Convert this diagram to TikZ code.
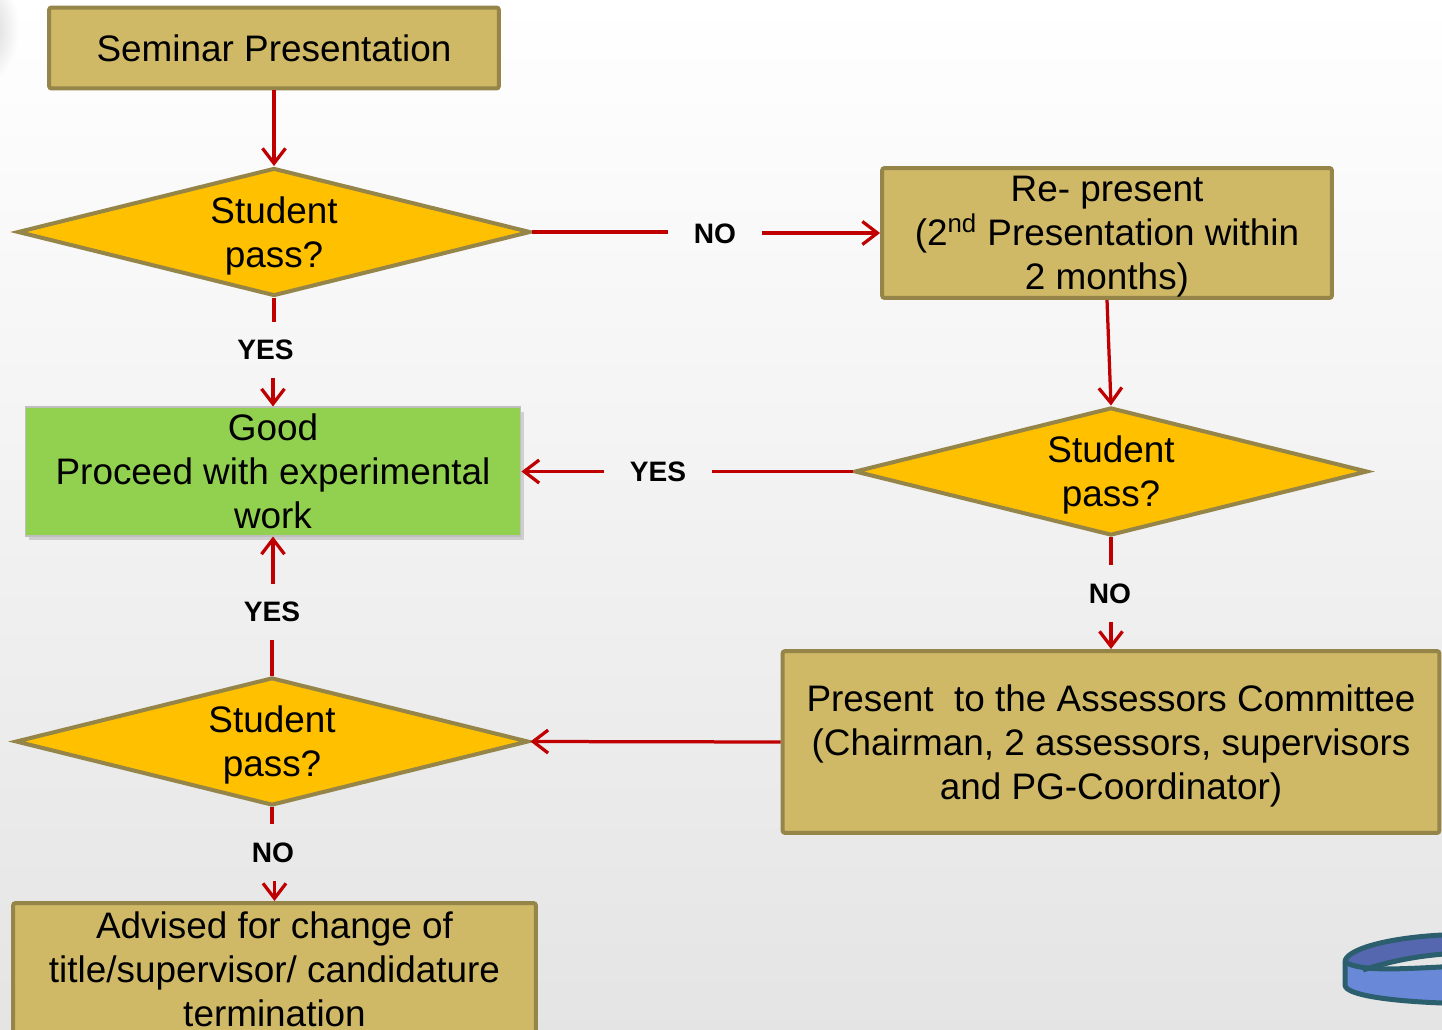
\documentclass[tikz,border=0pt]{standalone}
\usepackage{fontspec}
\setmainfont{Liberation Sans}
\usepackage{xcolor}
\usepackage{tikz}
\usetikzlibrary{shapes.geometric,arrows.meta,shadows}

\definecolor{khaki}{HTML}{CFB967}
\definecolor{khakiedge}{HTML}{958549}
\definecolor{amber}{HTML}{FFC000}
\definecolor{leaf}{HTML}{92D050}
\definecolor{linkred}{HTML}{C00000}
\definecolor{ringedge}{HTML}{2B5F6E}
\definecolor{ringdark}{HTML}{5467AF}
\definecolor{ringlight}{HTML}{6A88D8}

\tikzset{
    stage/.style={draw=khakiedge, fill=khaki, line width=0.08cm, rounded corners=1.5pt,
        inner sep=0pt, align=center, text depth=0pt, font=\fontsize{21}{25}\selectfont},
    check/.style={diamond, draw=khakiedge, fill=amber, line width=0.08cm, inner sep=0pt,
        aspect=4, minimum width=10.26cm, minimum height=2.56cm, align=center, text depth=0pt,
        font=\fontsize{21}{25}\selectfont},
    answer/.style={font=\fontsize{16}{19}\selectfont\bfseries, inner xsep=0.52cm, inner ysep=0.36cm},
    wire/.style={draw=linkred, line width=0.065cm},
    link/.style={wire, -{Straight Barb[length=0.3cm, width=0.46cm, line width=0.065cm]}},
}

\begin{document}
\begin{tikzpicture}[x=0.02cm, y=-0.02cm]
    \useasboundingbox (0,0) rectangle (1442,1030);
    \clip (0,0) rectangle (1442,1030);

    % slide background
    \shade[top color=white, middle color=gray!5, bottom color=gray!21] (0,0) rectangle (1442,1030);
    \shade[inner color=gray!38, outer color=white] (-18,30) ellipse [x radius=0.75cm, y radius=1.15cm];

    % boxes
    \node[stage, minimum width=9cm, minimum height=1.62cm] (sem) at (274,48) {Seminar Presentation};
    \node[stage, minimum width=9cm, minimum height=2.6cm] (rep) at (1107,233)
        {Re- present\\(2\textsuperscript{nd} Presentation within\\2 months)};
    \node[draw=black!25, fill=leaf, line width=0.6pt, inner sep=0pt, align=center,
        font=\fontsize{21}{25}\selectfont, minimum width=9.92cm, minimum height=2.58cm,
        drop shadow={shadow xshift=0.07cm, shadow yshift=-0.09cm, opacity=0.3}] (good) at (273,471.5)
        {Good\\Proceed with experimental\\work};
    \node[stage, minimum width=13.14cm, minimum height=3.64cm] (pres) at (1111,742)
        {Present\ \ to the Assessors Committee\\(Chairman, 2 assessors, supervisors\\and PG-Coordinator)};
    \node[stage, minimum width=10.46cm, minimum height=2.64cm] (adv) at (274.5,969)
        {Advised for change of\\title/supervisor/ candidature\\termination};

    % decisions
    \node[check] (dia1) at (274,232) {Student\\pass?};
    \node[check] (dia2) at (1111,471.5) {Student\\pass?};
    \node[check] (dia3) at (272,741.5) {Student\\pass?};

    % answers on the links
    \node[answer] (no1) at (715,234) {NO};
    \node[answer] (yes1) at (265.5,350) {YES};
    \node[answer] (yes2) at (658,472) {YES};
    \node[answer] (no2) at (1110,593.5) {NO};
    \node[answer] (yes3) at (272,612) {YES};
    \node[answer] (no3) at (273,852.5) {NO};

    % links
    \draw[link] (sem) -- (dia1);
    \draw[wire] (dia1.east) -- (no1.west |- dia1.east);
    \draw[link] (no1.east |- rep.west) -- (rep.west);
    \draw[wire] (dia1.south) -- (dia1.south |- yes1.north);
    \draw[link] (good.north |- yes1.south) -- (good.north);
    \draw[link] (rep.south) -- (dia2.north);
    \draw[wire] (dia2.west) -- (yes2.east |- dia2.west);
    \draw[link] (yes2.west |- good.east) -- (good.east);
    \draw[wire] (dia2.south) -- (dia2.south |- no2.north);
    \draw[link] (pres.north |- no2.south) -- (pres.north);
    \draw[link] (pres.west) -- (dia3.east);
    \draw[wire] (dia3.north) -- (dia3.north |- yes3.south);
    \draw[link] (good.south |- yes3.north) -- (good.south);
    \draw[wire] (dia3.south) -- (dia3.south |- no3.north);
    \draw[link] (adv.north |- no3.south) -- (adv.north);

    % ring in the corner
    \fill[ringdark] (1460,934) -- (1442,935) .. controls (1385,938) and (1345,950) .. (1345,962)
        .. controls (1350,968) and (1356,970) .. (1363,970)
        .. controls (1385,963) and (1415,955) .. (1460,953) -- cycle;
    \fill[ringlight] (1345,962) .. controls (1362,972) and (1400,969) .. (1460,966)
        -- (1460,1004) -- (1442,1003) .. controls (1390,1001) and (1345,995) .. (1345,985) -- cycle;
    \draw[ringedge, line width=0.1cm, line join=round]
        (1460,934) -- (1442,935) .. controls (1385,938) and (1345,950) .. (1345,962)
        -- (1345,985) .. controls (1345,995) and (1390,1001) .. (1442,1003) -- (1460,1004);
    \draw[ringedge, line width=0.1cm] (1345,962) .. controls (1362,972) and (1400,969) .. (1460,966);
    \draw[ringedge, line width=0.1cm] (1363,970) .. controls (1385,963) and (1415,955) .. (1460,953);
\end{tikzpicture}
\end{document}
